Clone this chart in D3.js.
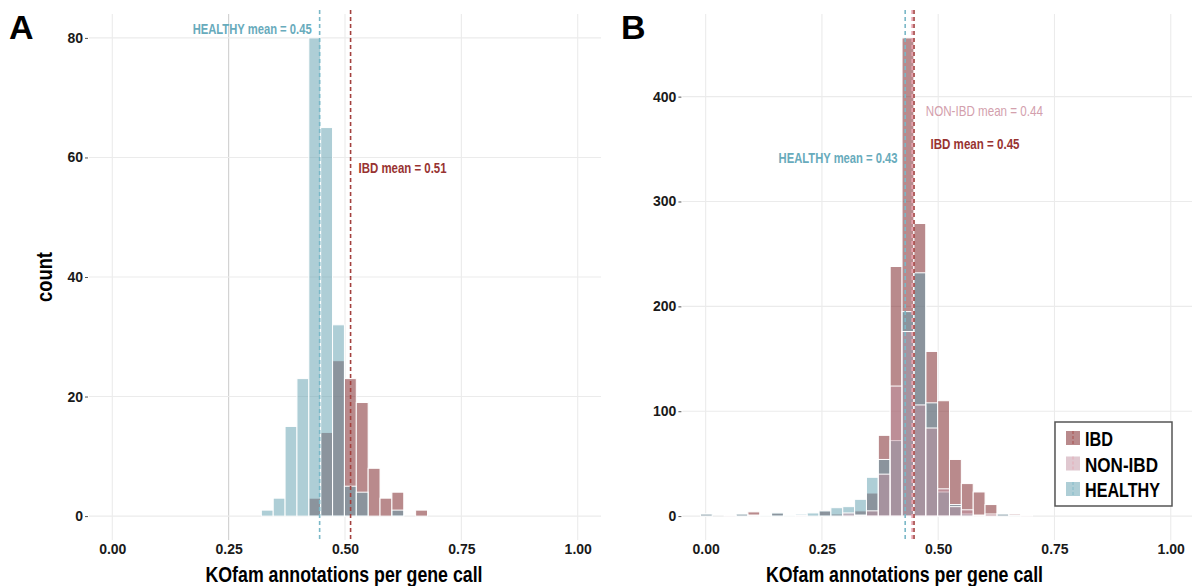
<!DOCTYPE html>
<html>
<head>
<meta charset="utf-8">
<script src="https://d3js.org/d3.v7.min.js"></script>
<style>
body { margin: 0; background: #fff; }
svg { display: block; }
</style>
</head>
<body>
<svg id="drawing_region"></svg>
<script>
// ---- data ----
// panel A: bin centres, bin width 0.0255
const a_bins    = [0.333, 0.3585, 0.384, 0.4095, 0.435, 0.4605, 0.486, 0.5115, 0.537, 0.5625, 0.588, 0.6135, 0.639, 0.6645];
const a_ibd     = [0, 0, 0, 0, 3, 14, 26, 23, 19, 8, 3, 4, 0, 1];
const a_healthy = [1, 3, 15, 23, 80, 65, 32, 5, 4, 0, 0, 1, 0, 0];
const a_mean_groups = ["HEALTHY", "IBD"];
const a_mean_values = [0.4455, 0.512];
const a_mean_labels = ["HEALTHY mean = 0.45", "IBD mean = 0.51"];

// panel B
const b_bins    = [0.0015, 0.027, 0.0525, 0.078, 0.1035, 0.129, 0.1545, 0.18, 0.2055, 0.231, 0.2565, 0.282, 0.3075, 0.333,
                   0.3585, 0.384, 0.4095, 0.435, 0.4605, 0.486, 0.5115, 0.537, 0.5625, 0.588, 0.6135, 0.639, 0.6645, 0.69];
const b_ibd     = [2, 0, 0, 2, 4, 0, 3, 1, 0, 1, 5, 2, 0, 5, 22, 77, 238, 456, 279, 157, 110, 54, 31, 23, 11, 2, 2, 0];
const b_nonibd  = [0, 0, 1, 0, 1, 0, 0, 0, 1, 0, 0, 0, 3, 1, 5, 40, 124, 176, 106, 84, 26, 9, 6, 1, 2, 0, 0, 1];
const b_healthy = [2, 0, 0, 2, 0, 1, 3, 1, 2, 3, 5, 8, 9, 16, 37, 54, 72, 195, 232, 108, 23, 11, 2, 0, 0, 2, 1, 0];
const b_mean_groups = ["NON-IBD", "IBD", "HEALTHY"];
const b_mean_values = [0.444, 0.448, 0.429];
const b_mean_labels = ["NON-IBD mean = 0.44", "IBD mean = 0.45", "HEALTHY mean = 0.43"];

const bin_width = 0.0255;
const x_ticks = [0, 0.25, 0.5, 0.75, 1];
const a_yticks = [0, 20, 40, 60, 80];
const b_yticks = [0, 100, 200, 300, 400];
const legend_groups = ["IBD", "NON-IBD", "HEALTHY"];

// ---- styles ----
const FILL = { "IBD": "#74151a", "NON-IBD": "#c291a2", "HEALTHY": "#5e9dad" };
const LINE = { "IBD": "#a3413f", "NON-IBD": "#e6a4b1", "HEALTHY": "#7ab8c7" };
const TEXT = { "IBD": "#983331", "NON-IBD": "#d3a0ad", "HEALTHY": "#68abbc" };
const SANS = '"Liberation Sans", Arial, sans-serif';
// no condensed face installed, so condensed text is squeezed with textLength
const LEGEND_W = { "IBD": 28, "NON-IBD": 73, "HEALTHY": 75 };

const svg = d3.select('#drawing_region')
    .attr('width', 1192)
    .attr('height', 586);

svg.append('rect').attr('width', 1192).attr('height', 586).attr('fill', '#fff');

class Histogram {

    constructor( config, series, means ) {
        this.config = config;
        this.series = series;
        this.means = means;
        this.init();
    }

    init() {
        let self = this;
        const c = self.config;

        self.chart = svg.append('g');

        self.xscale = d3.scaleLinear()
            .domain( [-0.05, 1.05] )
            .range( [c.left, c.right] );

        self.yscale = d3.scaleLinear()
            .domain( c.ydomain )
            .range( [c.bottom, c.top] );
    }

    render() {
        let self = this;
        const c = self.config;
        const x = self.xscale, y = self.yscale;

        // grid
        self.chart.selectAll('.vgrid')
            .data(x_ticks)
            .join('line')
            .attr('x1', d => x(d)).attr('x2', d => x(d))
            .attr('y1', c.top).attr('y2', c.bottom)
            .attr('stroke', d => (c.darkGrid === d) ? '#cfcfcf' : '#ebebeb')
            .attr('stroke-width', 1.1);

        self.chart.selectAll('.hgrid')
            .data(c.yticks)
            .join('line')
            .attr('x1', c.left).attr('x2', c.right)
            .attr('y1', d => y(d)).attr('y2', d => y(d))
            .attr('stroke', '#ebebeb')
            .attr('stroke-width', 1.1);

        // bars, drawn group by group
        c.order.forEach( g => {
            const s = self.series[g];
            const rows = s.bins.map( (b, i) => ({ b: b, n: s.counts[i] }) ).filter( d => d.n > 0 );
            self.chart.append('g')
                .selectAll('rect')
                .data(rows)
                .join('rect')
                .attr('x', d => x(d.b - bin_width/2))
                .attr('width', d => x(d.b + bin_width/2) - x(d.b - bin_width/2))
                .attr('y', d => y(d.n))
                .attr('height', d => y(0) - y(d.n))
                .attr('fill', FILL[g])
                .attr('fill-opacity', 0.5)
                .attr('stroke', '#fff')
                .attr('stroke-width', 1);
        });

        // mean lines
        self.chart.selectAll('.mean')
            .data(self.means)
            .join('line')
            .attr('x1', d => x(d.value)).attr('x2', d => x(d.value))
            .attr('y1', c.top - 4).attr('y2', c.bottom)
            .attr('stroke', d => LINE[d.group])
            .attr('stroke-width', 1.6)
            .attr('stroke-dasharray', '4,3');

        self.chart.selectAll('.mlabel')
            .data(self.means)
            .join('text')
            .attr('x', (d, i) => x(d.value) + c.labels[i].dx)
            .attr('y', (d, i) => c.labels[i].y)
            .attr('text-anchor', (d, i) => c.labels[i].dx < 0 ? 'end' : 'start')
            .attr('font-family', SANS)
            .attr('font-weight', (d, i) => c.labels[i].weight || 'bold')
            .attr('font-size', '15px')
            .attr('textLength', (d, i) => c.labels[i].w)
            .attr('lengthAdjust', 'spacingAndGlyphs')
            .attr('fill', d => TEXT[d.group])
            .text(d => d.label);

        // axes
        const yaxis = d3.axisLeft( y )
            .tickValues( c.yticks )
            .tickSize(3)
            .tickPadding(2);

        const yg = self.chart.append('g')
            .attr('transform', `translate(${c.left - 1}, 0)`)
            .call( yaxis );
        yg.select('.domain').remove();
        yg.selectAll('line').attr('stroke', '#555');
        yg.selectAll('text')
            .attr('font-family', SANS)
            .attr('font-weight', 'bold')
            .attr('font-size', '14px')
            .attr('fill', '#1a1a1a');

        const xaxis = d3.axisBottom( x )
            .tickValues( x_ticks )
            .tickFormat( d3.format('.2f') )
            .tickSize(0)
            .tickPadding(4);

        const xg = self.chart.append('g')
            .attr('transform', `translate(0, ${c.bottom})`)
            .call( xaxis );
        xg.select('.domain').remove();
        xg.selectAll('text')
            .attr('font-family', SANS)
            .attr('font-weight', 'bold')
            .attr('font-size', '14px')
            .attr('fill', '#1a1a1a');

        svg.append('text')
            .attr('x', c.titleX)
            .attr('y', 582)
            .attr('text-anchor', 'middle')
            .attr('font-family', SANS)
            .attr('font-weight', 'bold')
            .attr('font-size', '22px')
            .attr('textLength', 277)
            .attr('lengthAdjust', 'spacingAndGlyphs')
            .attr('fill', '#000')
            .text('KOfam annotations per gene call');

        svg.append('text')
            .attr('x', c.letterX)
            .attr('y', 39)
            .attr('font-family', SANS)
            .attr('font-weight', 'bold')
            .attr('font-size', '34px')
            .attr('fill', '#000')
            .text(c.letter);
    }
}

function meanRows( groups, values, labels ) {
    return groups.map( (g, i) => ({ group: g, value: values[i], label: labels[i] }) );
}

const panel_a = new Histogram( {
        left: 89, right: 601, top: 14, bottom: 540,
        ydomain: [-4, 84], yticks: a_yticks, darkGrid: 0.25,
        order: ["IBD", "HEALTHY"],
        labels: [ {dx: -8, y: 34, w: 119}, {dx: 8, y: 172.5, w: 88} ],
        titleX: 344, letterX: 9, letter: 'A'
    },
    {
        "IBD": { bins: a_bins, counts: a_ibd },
        "HEALTHY": { bins: a_bins, counts: a_healthy }
    },
    meanRows( a_mean_groups, a_mean_values, a_mean_labels ) );
panel_a.render();

const panel_b = new Histogram( {
        left: 682.4, right: 1194, top: 14, bottom: 540,
        ydomain: [-22.8, 478.8], yticks: b_yticks, darkGrid: null,
        order: ["IBD", "HEALTHY", "NON-IBD"],
        labels: [ {dx: 13.7, y: 115.5, w: 117, weight: 'normal'},
                  {dx: 16.5, y: 149, w: 89},
                  {dx: -7.6, y: 163.3, w: 119} ],
        titleX: 904.5, letterX: 621, letter: 'B'
    },
    {
        "IBD": { bins: b_bins, counts: b_ibd },
        "NON-IBD": { bins: b_bins, counts: b_nonibd },
        "HEALTHY": { bins: b_bins, counts: b_healthy }
    },
    meanRows( b_mean_groups, b_mean_values, b_mean_labels ) );
panel_b.render();

// y title, panel A only
svg.append('text')
    .attr('transform', 'translate(52, 277) rotate(-90)')
    .attr('text-anchor', 'middle')
    .attr('font-family', SANS)
    .attr('font-weight', 'bold')
    .attr('font-size', '22px')
    .attr('textLength', 50)
    .attr('lengthAdjust', 'spacingAndGlyphs')
    .text('count');

// legend
const legend = svg.append('g').attr('transform', 'translate(1055, 422)');
legend.append('rect')
    .attr('width', 117).attr('height', 84)
    .attr('fill', '#fff')
    .attr('stroke', '#555')
    .attr('stroke-width', 1.5);

const items = legend.selectAll('.item')
    .data(legend_groups)
    .join('g')
    .attr('transform', (d, i) => `translate(11, ${9 + i * 25.5})`);

items.append('rect')
    .attr('width', 14).attr('height', 14)
    .attr('fill', d => FILL[d])
    .attr('fill-opacity', 0.5);

items.append('line')
    .attr('x1', 7).attr('x2', 7).attr('y1', 0).attr('y2', 14)
    .attr('stroke', d => LINE[d])
    .attr('stroke-width', 0.8)
    .attr('stroke-dasharray', '3,2');

items.append('text')
    .attr('x', 19)
    .attr('y', 15)
    .attr('font-family', SANS)
    .attr('font-weight', 'bold')
    .attr('font-size', '20px')
    .attr('textLength', d => LEGEND_W[d])
    .attr('lengthAdjust', 'spacingAndGlyphs')
    .attr('fill', '#000')
    .text(d => d);
</script>
</body>
</html>
